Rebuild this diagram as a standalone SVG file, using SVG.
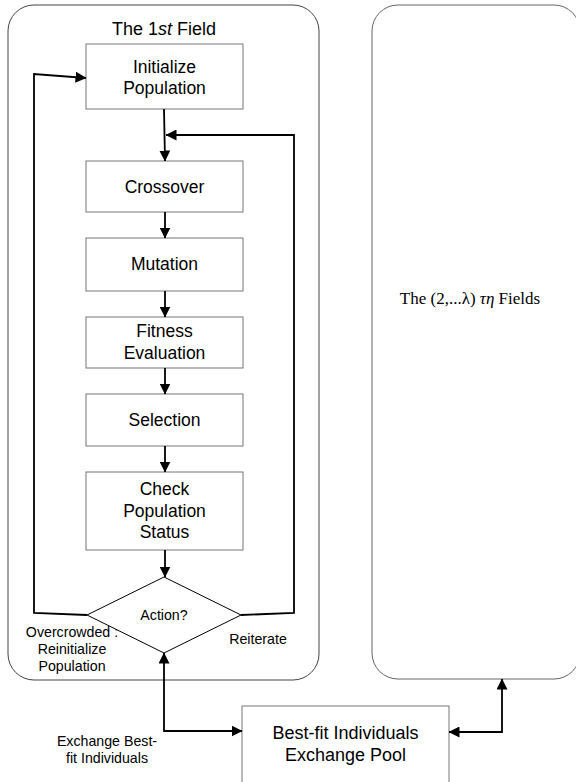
<svg xmlns="http://www.w3.org/2000/svg" width="576" height="782" viewBox="0 0 576 782">
<defs>
<style>
.box{fill:#fff;stroke:#777;stroke-width:1}
.field{fill:#fff;stroke:#444;stroke-width:1}
.t{font-family:"Liberation Sans",Arial,sans-serif;fill:#000;text-anchor:middle}
.bt{font-size:17.5px}
.lb{font-size:14.2px}
.c{fill:none;stroke:#000;stroke-width:1.8}
.dia{fill:#fff;stroke:#000;stroke-width:1}
</style>
<marker id="ah" viewBox="0 0 11 11" refX="10.5" refY="5.5" markerWidth="11" markerHeight="11" markerUnits="userSpaceOnUse" orient="auto-start-reverse">
<path d="M0,0 L11,5.5 L0,11 z" fill="#000"/>
</marker>
</defs>
<rect width="576" height="782" fill="#fff"/>
<g id="field1">
<rect class="field" x="8" y="5" width="311" height="675" rx="26" ry="26"/>
<text class="t" x="164" y="35" font-size="18px">The 1<tspan font-style="italic">st</tspan> Field</text>
</g>
<g id="fields2">
<rect class="field" x="372" y="5" width="208" height="674" rx="26" ry="26" style="stroke:#666"/>
<text x="470" y="304" font-family="'Liberation Serif','Times New Roman',serif" font-size="17px" text-anchor="middle">The (2,...λ) <tspan font-style="italic">τη</tspan> Fields</text>
</g>
<g id="init">
<rect class="box" x="86" y="44" width="157" height="65"/>
<text class="t bt" x="164.5" y="73">Initialize</text>
<text class="t bt" x="164.5" y="94">Population</text>
</g>
<g id="crossover">
<rect class="box" x="86" y="161" width="157" height="51"/>
<text class="t bt" x="164.5" y="193">Crossover</text>
</g>
<g id="mutation">
<rect class="box" x="86" y="238" width="157" height="53"/>
<text class="t bt" x="164.5" y="270">Mutation</text>
</g>
<g id="fitness">
<rect class="box" x="86" y="317" width="157" height="51"/>
<text class="t bt" x="164.5" y="337">Fitness</text>
<text class="t bt" x="164.5" y="359">Evaluation</text>
</g>
<g id="selection">
<rect class="box" x="86" y="394" width="157" height="52"/>
<text class="t bt" x="164.5" y="426">Selection</text>
</g>
<g id="check">
<rect class="box" x="86" y="472" width="157" height="78"/>
<text class="t bt" x="164.5" y="495">Check</text>
<text class="t bt" x="164.5" y="517">Population</text>
<text class="t bt" x="164.5" y="538">Status</text>
</g>
<g id="labels">
<text class="t lb" x="72" y="637">Overcrowded :</text>
<text class="t lb" x="72" y="654">Reinitialize</text>
<text class="t lb" x="72" y="671">Population</text>
<text class="t lb" x="258" y="644">Reiterate</text>
<text class="t lb" x="107" y="746">Exchange Best-</text>
<text class="t lb" x="107" y="763">fit Individuals</text>
</g>
<g id="action">
<polygon class="dia" points="164,577 241,615 164,653 87,615"/>
<text class="t lb" x="164" y="620">Action?</text>
</g>
<g id="pool">
<rect class="box" x="242" y="706" width="207" height="90"/>
<text class="t" x="345.5" y="739" font-size="18px">Best-fit Individuals</text>
<text class="t" x="345.5" y="761" font-size="18px">Exchange Pool</text>
</g>
<g id="connectors">
<path class="c" d="M164,109 L165,161" marker-end="url(#ah)"/>
<path class="c" d="M165,212 L165,238" marker-end="url(#ah)"/>
<path class="c" d="M165,291 L165,317" marker-end="url(#ah)"/>
<path class="c" d="M165,368 L165,394" marker-end="url(#ah)"/>
<path class="c" d="M165,446 L165,472" marker-end="url(#ah)"/>
<path class="c" d="M165,550 L165,577" marker-end="url(#ah)"/>
<path class="c" d="M241,615 L294,613 L294,135 L166,135" marker-end="url(#ah)"/>
<path class="c" d="M87,615 L34,613 L34,74 L86,78" marker-end="url(#ah)"/>
<path class="c" d="M242,731 L164,731 L164,653" marker-start="url(#ah)" marker-end="url(#ah)"/>
<path class="c" d="M449,732 L502,732 L502,679" marker-start="url(#ah)" marker-end="url(#ah)"/>
</g>
</svg>
